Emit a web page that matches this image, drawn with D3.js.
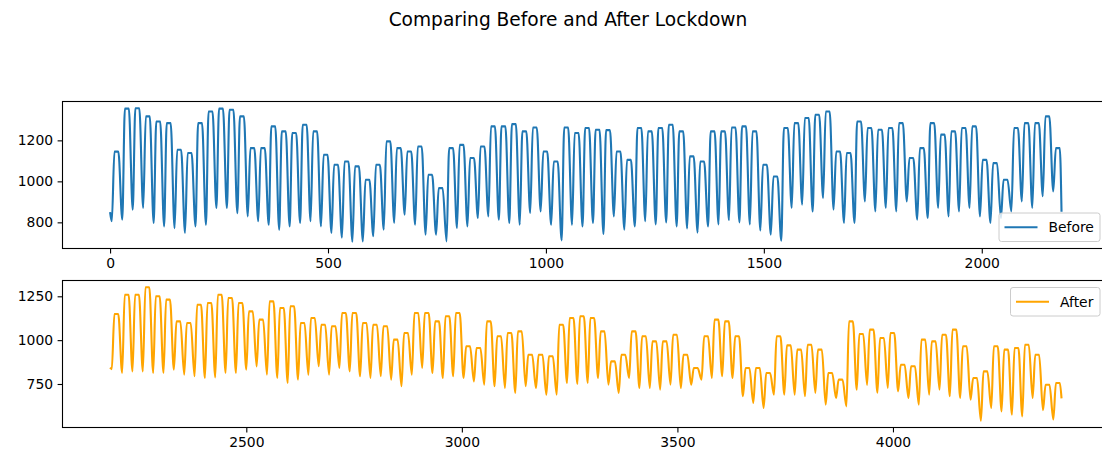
<!DOCTYPE html>
<html>
<head>
<meta charset="utf-8">
<script src="https://cdn.jsdelivr.net/npm/d3@7"></script>
<style>
body { margin: 0; background: #fff; }
text { font-family: "DejaVu Sans", sans-serif; }
</style>
</head>
<body>
<div id="chart"></div>
<script>
var beforeStart = 0;
var beforeEnds = [850, 852];
var beforeLow = [805, 813, 862, 870, 797, 780, 772, 748, 780, 788,
                 870, 870, 845, 829, 805, 788, 764, 780, 797, 805,
                 780, 748, 725, 705, 707, 732, 764, 797, 837, 788,
                 740, 740, 707, 772, 780, 821, 829, 813, 797, 788,
                 845, 853, 788, 712, 788, 780, 797, 743, 829, 764,
                 780, 805, 790, 800, 780, 770, 750, 780, 790, 810,
                 800, 790, 760, 740, 710, 870, 886, 853, 918, 862,
                 797, 797, 902, 853, 870, 853, 902, 813, 821, 870,
                 829, 853, 870, 829, 797, 821, 853, 902, 870, 927,
                 951];
var beforeHigh = [1145, 1355, 1357, 1317, 1292, 1284, 1154, 1138, 1284, 1341,
                  1355, 1349, 1317, 1162, 1162, 1268, 1244, 1236, 1276, 1244,
                  1130, 1081, 1097, 1073, 1008, 1081, 1195, 1162, 1146, 1170,
                  1032, 967, 1162, 1178, 1114, 1170, 1268, 1268, 1279, 1244,
                  1263, 1146, 1097, 1263, 1236, 1260, 1252, 1250, 1146, 1105,
                  1260, 1244, 1260, 1276, 1244, 1122, 1097, 1244, 1244, 1263,
                  1268, 1244, 1081, 1024, 1260, 1284, 1309, 1325, 1341, 1146,
                  1138, 1292, 1260, 1252, 1260, 1284, 1114, 1162, 1284, 1228,
                  1244, 1260, 1268, 1105, 1089, 1008, 1260, 1284, 1284, 1317,
                  1162];

var afterStart = 2184;
var afterEnds = [843, 668];
var afterLow = [835, 813, 822, 822, 813, 813, 832, 803, 794, 784,
                788, 813, 813, 832, 850, 803, 784, 756, 775, 803,
                851, 803, 841, 822, 794, 784, 794, 775, 737, 803,
                841, 813, 784, 794, 784, 765, 746, 737, 727, 699,
                737, 727, 689, 689, 756, 750, 756, 784, 746, 699,
                784, 727, 727, 718, 746, 727, 746, 775, 784, 794,
                784, 680, 642, 613, 689, 689, 689, 680, 699, 632,
                670, 622, 717, 745, 700, 727, 708, 670, 632, 689,
                717, 680, 670, 660, 540, 613, 594, 575, 565, 670,
                600, 548];
var afterHigh = [1149, 1259, 1259, 1302, 1250, 1231, 1107, 1098, 1202, 1212,
                 1259, 1240, 1212, 1164, 1117, 1221, 1183, 1193, 1098, 1126,
                 1088, 1079, 1155, 1155, 1098, 1088, 1079, 1003, 1041, 1155,
                 1155, 1107, 1136, 1155, 965, 955, 1107, 1022, 1041, 1050,
                 917, 917, 908, 1088, 1126, 1136, 1126, 1050, 879, 917,
                 1050, 1022, 993, 993, 1031, 917, 841, 1022, 1117, 1107,
                 1022, 841, 841, 813, 1022, 970, 946, 974, 946, 813,
                 775, 1107, 1035, 1060, 1012, 1041, 860, 851, 1003, 993,
                 1031, 1060, 965, 784, 822, 965, 946, 955, 974, 917,
                 746, 756];

var beforeTicksX = [0, 500, 1000, 1500, 2000];
var afterTicksX = [2500, 3000, 3500, 4000];
var beforeTicksY = [800, 1000, 1200];
var afterTicksY = [750, 1000, 1250];

var w = 1102;
var h = 453;
var left = 62.5;
var plotW = 1046.6;   // right spine falls outside the picture
var plotH = 147;

// hour of the day for the night low and the start / end of the day plateau
var lowHour = 4, riseHour = 10, fallHour = 19;

function buildSeries(start, low, high, ends) {
	var pts = [{x: start, y: ends[0]}];
	low.forEach(function(v, d) {
		var base = start + d * 24;
		pts.push({x: base + lowHour, y: v});
		pts.push({x: base + riseHour, y: high[d]});
		pts.push({x: base + fallHour, y: high[d]});
	});
	pts.push({x: start + low.length * 24 - 1, y: ends[1]});
	return pts;
}

var svg = d3.select("#chart")
			.append("svg")
			.attr("width", w)
			.attr("height", h);

svg.append("text")
   .attr("x", 568)
   .attr("y", 26)
   .attr("text-anchor", "middle")
   .style("font-size", "18.6px")
   .text("Comparing Before and After Lockdown");

function drawPanel(top, data, color, ticksX, ticksY, label, legendBottom) {
	var xExt = d3.extent(data, function(d) { return d.x; });
	var yExt = d3.extent(data, function(d) { return d.y; });
	var xPad = (xExt[1] - xExt[0]) * 0.05;
	var yPad = (yExt[1] - yExt[0]) * 0.05;

	var xScale = d3.scaleLinear()
				   .domain([xExt[0] - xPad, xExt[1] + xPad])
				   .range([left, left + plotW]);
	var yScale = d3.scaleLinear()
				   .domain([yExt[0] - yPad, yExt[1] + yPad])
				   .range([top + plotH, top]);

	var g = svg.append("g");

	var line = d3.line()
				 .curve(d3.curveMonotoneX)
				 .x(function(d) { return xScale(d.x); })
				 .y(function(d) { return yScale(d.y); });

	g.append("path")
	 .datum(data)
	 .attr("d", line)
	 .attr("fill", "none")
	 .attr("stroke", color)
	 .attr("stroke-width", 2.1)
	 .attr("stroke-linejoin", "round");

	g.append("rect")
	 .attr("x", left)
	 .attr("y", top)
	 .attr("width", plotW)
	 .attr("height", plotH)
	 .attr("fill", "none")
	 .attr("stroke", "#000")
	 .attr("stroke-width", 1.1);

	var xAxis = d3.axisBottom(xScale)
				  .tickValues(ticksX)
				  .tickFormat(d3.format("d"))
				  .tickSizeOuter(0)
				  .tickSize(4.9)
				  .tickPadding(4.5);
	var yAxis = d3.axisLeft(yScale)
				  .tickValues(ticksY)
				  .tickFormat(d3.format("d"))
				  .tickSizeOuter(0)
				  .tickSize(4.9)
				  .tickPadding(4.5);

	var gx = g.append("g")
			  .attr("transform", "translate(0," + (top + plotH) + ")")
			  .call(xAxis);
	var gy = g.append("g")
			  .attr("transform", "translate(" + left + ",0)")
			  .call(yAxis);
	[gx, gy].forEach(function(a) {
		a.select(".domain").remove();
		a.selectAll("line").attr("stroke", "#000").attr("stroke-width", 1.1);
		a.selectAll("text")
		 .style("font-size", "13.9px")
		 .style("font-family", "DejaVu Sans")
		 .attr("fill", "#000");
	});

	// legend box
	var textW = label.length > 5 ? 46 : 34.5;
	var boxW = 5.5 + 33 + 11 + textW + 5.5;
	var boxH = 28.5;
	var bx = 1100 - boxW;
	var by = legendBottom ? top + plotH - 7 - boxH : top + 7;
	var lg = g.append("g");
	lg.append("rect")
	  .attr("x", bx)
	  .attr("y", by)
	  .attr("width", boxW)
	  .attr("height", boxH)
	  .attr("rx", 2.5)
	  .attr("fill", "#fff")
	  .attr("fill-opacity", 0.8)
	  .attr("stroke", "#cccccc")
	  .attr("stroke-width", 1);
	lg.append("line")
	  .attr("x1", bx + 5.5)
	  .attr("x2", bx + 5.5 + 33)
	  .attr("y1", by + boxH / 2)
	  .attr("y2", by + boxH / 2)
	  .attr("stroke", color)
	  .attr("stroke-width", 2.1);
	lg.append("text")
	  .attr("x", bx + 5.5 + 33 + 11)
	  .attr("y", by + boxH / 2 + 5)
	  .style("font-size", "13.9px")
	  .text(label);
}

drawPanel(101.5, buildSeries(beforeStart, beforeLow, beforeHigh, beforeEnds),
		  "#1f77b4", beforeTicksX, beforeTicksY, "Before", true);
drawPanel(280.5, buildSeries(afterStart, afterLow, afterHigh, afterEnds),
		  "#ffa500", afterTicksX, afterTicksY, "After", false);
</script>
</body>
</html>
